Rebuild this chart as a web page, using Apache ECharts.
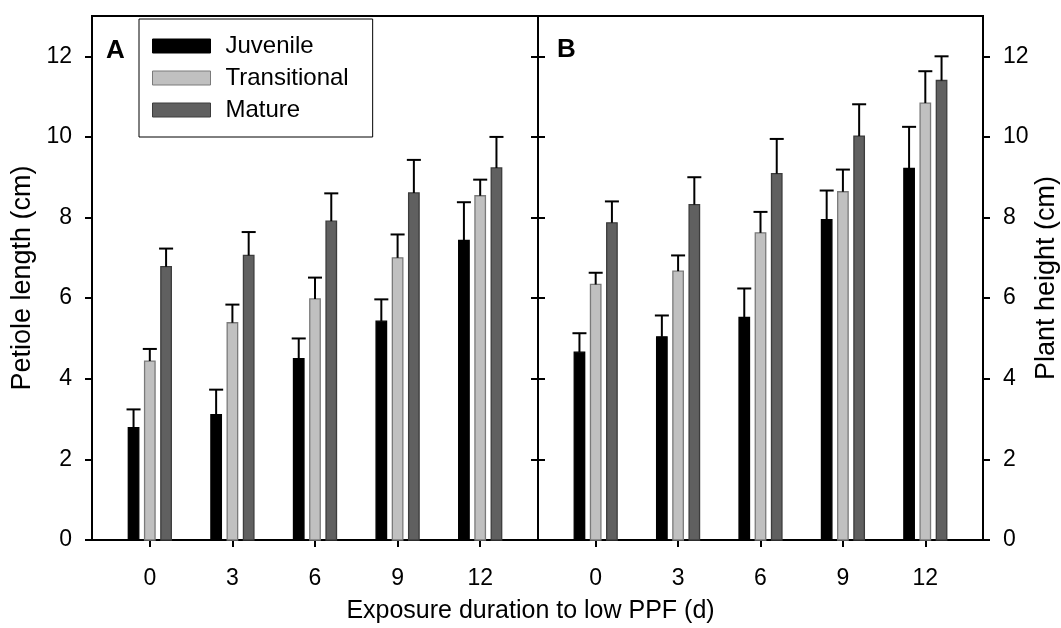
<!DOCTYPE html>
<html>
<head>
<meta charset="utf-8">
<script src="https://cdn.jsdelivr.net/npm/echarts@6/dist/echarts.min.js"></script>
<style>html,body{margin:0;padding:0;background:#fff}#c{width:1061px;height:628px}</style>
</head>
<body>
<div id="c"></div>
<script>
// ---- data ----
const days = ['0', '3', '6', '9', '12'];
const yTicks = [0, 2, 4, 6, 8, 10, 12];
const groupNames = ['Juvenile', 'Transitional', 'Mature'];

// Panel A: petiole length (cm)
const petioleJuv      = [2.79, 3.11, 4.50, 5.43, 7.43];
const petioleJuvErr   = [0.45, 0.62, 0.50, 0.54, 0.95];
const petioleTrans    = [4.44, 5.39, 5.98, 7.00, 8.54];
const petioleTransErr = [0.30, 0.45, 0.53, 0.58, 0.40];
const petioleMat      = [6.78, 7.06, 7.91, 8.61, 9.23];
const petioleMatErr   = [0.45, 0.58, 0.69, 0.82, 0.77];

// Panel B: plant height (cm)
const heightJuv      = [4.66, 5.04, 5.52, 7.95, 9.22];
const heightJuvErr   = [0.47, 0.53, 0.72, 0.72, 1.03];
const heightTrans    = [6.34, 6.67, 7.62, 8.64, 10.84];
const heightTransErr = [0.29, 0.39, 0.52, 0.55, 0.79];
const heightMat      = [7.87, 8.32, 9.09, 10.02, 11.40];
const heightMatErr   = [0.53, 0.68, 0.86, 0.79, 0.60];

// ---- styling ----
const FONT = '"Liberation Sans", Arial, Helvetica, sans-serif';
const BAR_W = 0.127;   // in category units
const CAP_W = 0.17;
const OFFSETS = [-0.197, 0, 0.197];
const FILLS = ['#000000', '#c0c0c0', '#606060'];
const BORDERS = ['#000000', '#7a7a7a', '#3c3c3c'];

function makeRender(offset, fill, border) {
  return function (params, api) {
    const x = api.value(0) + offset, v = api.value(1), e = api.value(2);
    const top = api.coord([x, v]);
    const base = api.coord([x, 0]);
    const errTop = api.coord([x, v + e]);
    const w = api.size([BAR_W, 0])[0];
    const cw = api.size([CAP_W, 0])[0];
    return {
      type: 'group',
      children: [
        { type: 'rect', shape: { x: top[0] - w / 2, y: top[1], width: w, height: base[1] - top[1] },
          style: { fill: fill, stroke: border, lineWidth: 1.3 } },
        { type: 'line', shape: { x1: top[0], y1: top[1], x2: top[0], y2: errTop[1] },
          style: { stroke: '#000', lineWidth: 2 } },
        { type: 'line', shape: { x1: top[0] - cw / 2, y1: errTop[1], x2: top[0] + cw / 2, y2: errTop[1] },
          style: { stroke: '#000', lineWidth: 2 } }
      ]
    };
  };
}

function seriesFor(panel, idx, vals, errs) {
  return {
    type: 'custom',
    name: groupNames[idx],
    xAxisIndex: panel,
    yAxisIndex: panel === 0 ? 0 : 2,
    renderItem: makeRender(OFFSETS[idx], FILLS[idx], BORDERS[idx]),
    itemStyle: { color: FILLS[idx], borderColor: BORDERS[idx], borderWidth: 1 },
    encode: { x: 0, y: [1] },
    data: vals.map((v, i) => [i, v, errs[i], v + errs[i]]),
    z: 3
  };
}

const lineStyle = { color: '#000', width: 2 };
const catIdx = days.map((d, i) => i);

function xAxisFor(gridIndex) {
  return {
    type: 'value', gridIndex: gridIndex, min: -0.7, max: 4.7,
    axisLine: { show: true, lineStyle: lineStyle },
    axisTick: { show: true, inside: false, length: 7, lineStyle: lineStyle, customValues: catIdx },
    axisLabel: { customValues: catIdx, formatter: v => days[Math.round(v)], color: '#000',
                 fontFamily: FONT, fontSize: 23, margin: 27 },
    splitLine: { show: false }
  };
}

function yAxisFor(gridIndex, position, showLabels, inside, name) {
  const ax = {
    type: 'value', gridIndex: gridIndex, position: position, min: 0, max: 13,
    axisLine: { show: true, onZero: false, lineStyle: lineStyle },
    axisTick: { show: true, inside: inside, length: 7, lineStyle: lineStyle, customValues: yTicks },
    axisLabel: { show: showLabels, customValues: yTicks, color: '#000', fontFamily: FONT, fontSize: 23, margin: 20 },
    splitLine: { show: false }
  };
  if (name) {
    ax.name = name;
    ax.nameLocation = 'middle';
    ax.nameRotate = 90;
    ax.nameGap = position === 'left' ? 56 : 50;
    ax.nameTextStyle = { color: '#000', fontFamily: FONT, fontSize: 27 };
  }
  return ax;
}

const option = {
  backgroundColor: '#fff',
  animation: false,
  title: [
    { text: 'A', left: 106, top: 38, padding: 0,
      textStyle: { fontFamily: FONT, fontWeight: 'bold', fontSize: 26, color: '#000' } },
    { text: 'B', left: 557, top: 37, padding: 0,
      textStyle: { fontFamily: FONT, fontWeight: 'bold', fontSize: 26, color: '#000' } },
    { text: 'Exposure duration to low PPF (d)', left: 'center', top: 599, padding: 0,
      textStyle: { fontFamily: FONT, fontWeight: 'normal', fontSize: 25, color: '#000' } }
  ],
  legend: {
    orient: 'vertical', left: 139, top: 19,
    padding: [15, 24, 15, 13],
    itemGap: 8, itemWidth: 58, itemHeight: 14,
    borderColor: '#000', borderWidth: 1,
    selectedMode: false,
    textStyle: { fontFamily: FONT, fontSize: 24, color: '#000', padding: [0, 0, 0, 10] },
    data: groupNames.map((n, i) => ({ name: n, icon: 'rect',
      itemStyle: { color: FILLS[i], borderColor: BORDERS[i], borderWidth: 1 } }))
  },
  grid: [
    { left: 92, right: 523, top: 16, bottom: 88, show: true, borderColor: '#000', borderWidth: 2, backgroundColor: 'transparent' },
    { left: 538, right: 77, top: 16, bottom: 88, show: true, borderColor: '#000', borderWidth: 2, backgroundColor: 'transparent' }
  ],
  xAxis: [xAxisFor(0), xAxisFor(1)],
  yAxis: [
    yAxisFor(0, 'left', true, false, 'Petiole length (cm)'),
    yAxisFor(0, 'right', false, true, null),
    yAxisFor(1, 'left', false, true, null),
    yAxisFor(1, 'right', true, false, 'Plant height (cm)')
  ],
  series: [
    seriesFor(0, 0, petioleJuv, petioleJuvErr),
    seriesFor(0, 1, petioleTrans, petioleTransErr),
    seriesFor(0, 2, petioleMat, petioleMatErr),
    seriesFor(1, 0, heightJuv, heightJuvErr),
    seriesFor(1, 1, heightTrans, heightTransErr),
    seriesFor(1, 2, heightMat, heightMatErr)
  ]
};

const chart = echarts.init(document.getElementById('c'), null, { renderer: 'canvas' });
chart.setOption(option);
</script>
</body>
</html>
